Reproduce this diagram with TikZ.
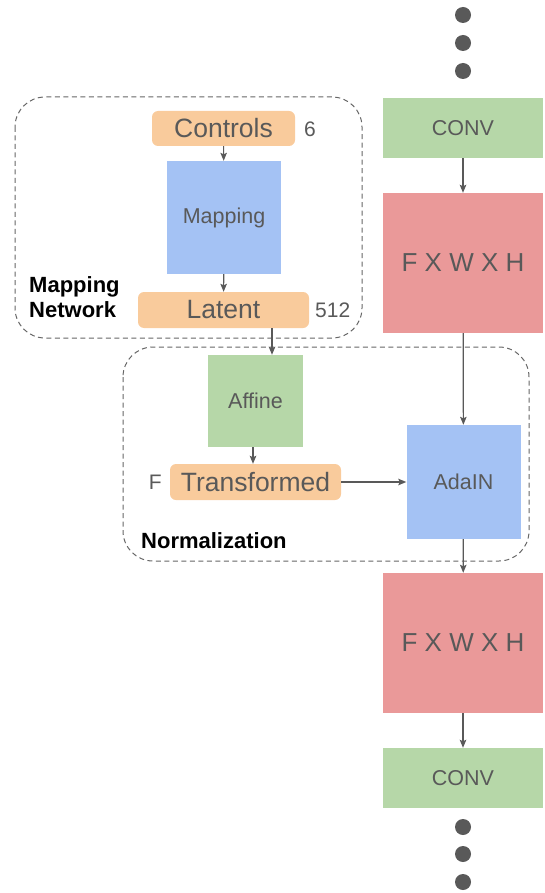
\documentclass[tikz,border=0pt]{standalone}
\usepackage{fontspec}
\setmainfont{Liberation Sans}
\usetikzlibrary{arrows.meta}
\definecolor{txt}{HTML}{595959}
\definecolor{ln}{HTML}{595959}
\definecolor{dsh}{HTML}{666666}
\definecolor{orng}{HTML}{F9CB9C}
\definecolor{blu}{HTML}{A4C2F4}
\definecolor{grn}{HTML}{B6D7A8}
\definecolor{rd}{HTML}{EA9999}
\tikzset{
  boxbase/.style={draw=none, inner sep=0pt, text=txt, align=center},
  greenbox/.style={boxbase, fill=grn, minimum width=160pt, minimum height=60pt, font=\fontsize{21.5}{24}\selectfont},
  redbox/.style={boxbase, fill=rd, minimum width=160pt, minimum height=140pt, font=\fontsize{26}{28}\selectfont},
  bluebox/.style={boxbase, fill=blu, font=\fontsize{21.5}{24}\selectfont},
  pill/.style={boxbase, fill=orng, rounded corners=6pt, minimum height=36pt, font=\fontsize{26.5}{28}\selectfont},
  dimlabel/.style={text=txt, inner sep=0pt, font=\fontsize{21}{22}\selectfont},
  grouplabel/.style={text=black, inner sep=0pt, align=left, font=\fontsize{22}{25}\selectfont\bfseries},
  dotnode/.style={circle, fill=ln, draw=none, minimum size=16pt, inner sep=0pt},
  arr/.style={draw=ln, line width=1.2pt, -{Stealth[length=8pt,width=6.5pt,inset=1.5pt]}},
  groupbox/.style={draw=dsh, line width=1pt, dash pattern=on 5pt off 3.5pt, rounded corners=30pt}
}
\begin{document}
\begin{tikzpicture}[x=1pt,y=-1pt]
\useasboundingbox (0,0) rectangle (545,893);
% group boxes
\draw[groupbox] (15,97) rectangle (362,338);
\draw[groupbox] (123,347) rectangle (529,561);
% right column
\node[dotnode] (d1) at (463,15) {};
\node[dotnode] (d2) at (463,43) {};
\node[dotnode] (d3) at (463,71) {};
\node[greenbox] (conv1) at (463,128) {CONV};
\node[redbox] (fm1) at (463,263) {F X W X H};
\node[bluebox, minimum width=114pt, minimum height=114pt] (ada) at (463.5,482) {AdaIN};
\node[redbox] (fm2) at (463,643) {F X W X H};
\node[greenbox] (conv2) at (463,778) {CONV};
\node[dotnode] (d4) at (463,827) {};
\node[dotnode] (d5) at (463,854) {};
\node[dotnode] (d6) at (463,882) {};
% mapping network
\node[pill, minimum width=143pt, minimum height=35pt] (ctrl) at (223.5,128.5) {Controls};
\node[dimlabel, anchor=west] (six) at (304,129) {6};
\node[bluebox, minimum width=114pt, minimum height=113pt] (map) at (224,217.5) {Mapping};
\node[pill, minimum width=171pt] (lat) at (223.5,310) {Latent};
\node[dimlabel, anchor=west] (n512) at (315,310) {512};
\node[grouplabel, anchor=west] (mnl) at (29,297) {Mapping\\Network};
% normalization
\node[greenbox, minimum width=95pt, minimum height=92pt] (aff) at (255.5,401) {Affine};
\node[pill, minimum width=171pt] (tr) at (255.5,482) {Transformed};
\node[dimlabel, anchor=east] (fl) at (162,482) {F};
\node[grouplabel, anchor=west] (nl) at (141,541) {Normalization};
% connectors
\draw[arr] (conv1) -- (fm1);
\draw[arr] (fm1) -- (ada);
\draw[arr] (ada) -- (fm2);
\draw[arr] (fm2) -- (conv2);
\draw[arr] (ctrl) -- (map);
\draw[arr] (map) -- (lat);
\draw[arr] (lat.south -| 272,0) -- (aff.north -| 272,0);
\draw[arr] (aff.south -| 253,0) -- (tr.north -| 253,0);
\draw[arr] (tr) -- (ada);
\end{tikzpicture}
\end{document}
